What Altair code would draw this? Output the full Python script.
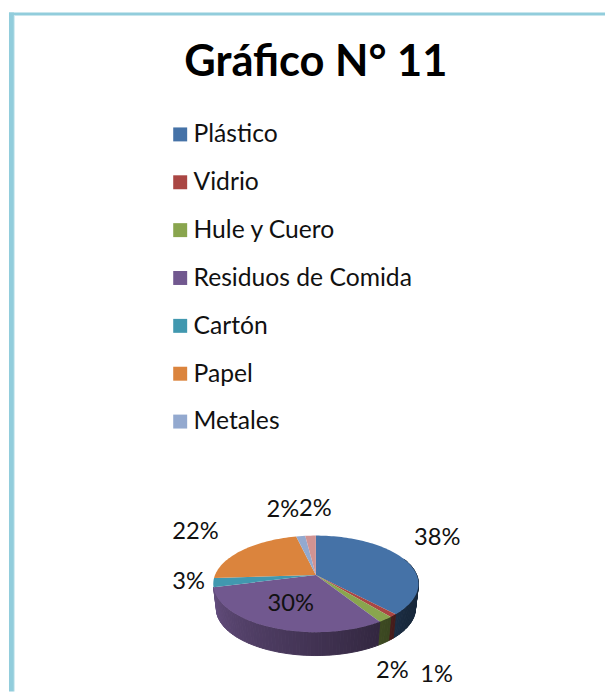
import math
import altair as alt

TITLE = "Gráfico N° 11"
NAMES = ["Plástico", "Vidrio", "Hule y Cuero", "Residuos de Comida", "Cartón", "Papel", "Metales", "Otros"]
SHARES = [38, 1, 2, 30, 3, 22.3, 1.7, 2]
COLORS = ["#4572A7", "#AA4643", "#89A54E", "#71588F", "#4198AF", "#DB843D", "#93A9CF", "#D19392"]
LEGEND_NAMES = NAMES[:7]
LABEL_DX = [34, 44, 7, 20, -25, -48, -18, 5]
LABEL_DY = [-21, 60, 52, -24, 0, -18, -26, -27]

W, H = 605, 688
CX, CY = 312.0, 570.0
R, B, K = 102.2, 47.3, 0.1837
SHRINK, DROP = 0.97, 25.4
WALL_SLICES = 4


def top(t):
    u, v = math.sin(t), math.cos(t)
    d = 1 + K * v
    return CX + R * u / d, CY - B * v / d


def bottom(t):
    x, y = top(t)
    return CX + (x - CX) * SHRINK, CY + (y - CY) * SHRINK + DROP


def feature(ring, **props):
    ring = [list(p) for p in ring]
    ring.append(ring[0])
    return {"type": "Feature", "properties": props,
            "geometry": {"type": "Polygon", "coordinates": [ring]}}


def shade(t):
    deg = math.degrees(t) % 360
    # lighter towards the left of the cake, darker towards the right
    return 0.36 + 0.52 * min(max((deg - 125) / 130, 0), 1)


def darker(hex_color, f):
    r, g, b = (int(hex_color[i:i + 2], 16) for i in (1, 3, 5))
    return "#%02x%02x%02x" % (int(r * f), int(g * f), int(b * f))


total = sum(SHARES)
edges = [0.0]
for s in SHARES:
    edges.append(edges[-1] + s / total * 2 * math.pi)

slices, walls, labels = [], [], []
for i, name in enumerate(NAMES):
    a, b = edges[i], edges[i + 1]
    n = max(int((b - a) / 0.03), 2)
    ts = [a + (b - a) * j / n for j in range(n + 1)]
    slices.append(feature([(CX, CY)] + [top(t) for t in ts], name=name))
    if i < WALL_SLICES:
        for t0, t1 in zip(ts[:-1], ts[1:]):
            if math.cos((t0 + t1) / 2) < 0.35:
                c = darker(COLORS[i], shade((t0 + t1) / 2))
                walls.append(feature([top(t0), top(t1), bottom(t1), bottom(t0)], fill=c))
    mx, my = top((a + b) / 2)
    labels.append({"x": mx + LABEL_DX[i], "y": my + LABEL_DY[i],
                   "text": f"{round(SHARES[i])}%"})

PROJ = dict(type="identity", scale=1, translate=[0, 0])
FONT = "Lato"

wall_layer = alt.Chart(alt.Data(values=walls)).mark_geoshape(strokeWidth=1).encode(
    fill=alt.Fill("properties.fill:N", scale=None),
    stroke=alt.Stroke("properties.fill:N", scale=None),
).project(**PROJ)

slice_layer = alt.Chart(alt.Data(values=slices)).mark_geoshape(strokeWidth=0).encode(
    fill=alt.Fill(
        "properties.name:N",
        scale=alt.Scale(domain=NAMES, range=COLORS),
        legend=alt.Legend(
            title=None, orient="none", legendX=162, legendY=111,
            values=LEGEND_NAMES, symbolType="square", symbolSize=200,
            symbolStrokeWidth=0, labelFont=FONT, labelFontSize=25,
            labelColor="#111111", labelOffset=1, rowPadding=22.5, labelLimit=400,
        ),
    ),
).project(**PROJ)

label_layer = alt.Chart(alt.Data(values=labels)).mark_text(
    font=FONT, fontSize=24, color="#111111"
).encode(
    x=alt.X("x:Q", scale=None, axis=None),
    y=alt.Y("y:Q", scale=None, axis=None),
    text="text:N",
)

title_layer = alt.Chart(alt.Data(values=[{"t": TITLE}])).mark_text(
    font=FONT, fontSize=44, fontWeight="bold", color="#000000"
).encode(x=alt.value(312), y=alt.value(51), text="t:N")

frame_color = "#92CDDC"
one = alt.Data(values=[{"a": 1}])
frame_left = alt.Chart(one).mark_rect(color=frame_color).encode(
    x=alt.value(1), x2=alt.value(6), y=alt.value(0), y2=alt.value(H))
frame_top = alt.Chart(one).mark_rect(color=frame_color).encode(
    x=alt.value(1), x2=alt.value(W), y=alt.value(0), y2=alt.value(3))
frame_inner = alt.Chart(one).mark_rect(color="#D3ECF2").encode(
    x=alt.value(6), x2=alt.value(7), y=alt.value(3), y2=alt.value(H))

chart = alt.layer(
    frame_left, frame_top, frame_inner, wall_layer, slice_layer, label_layer, title_layer
).resolve_scale(fill="independent", stroke="independent").properties(
    width=W, height=H, padding=0, autosize=alt.AutoSizeParams(type="none"), background="white"
).configure_view(stroke=None)

chart.save("out.html", embed_options={"renderer": "svg", "actions": False})
